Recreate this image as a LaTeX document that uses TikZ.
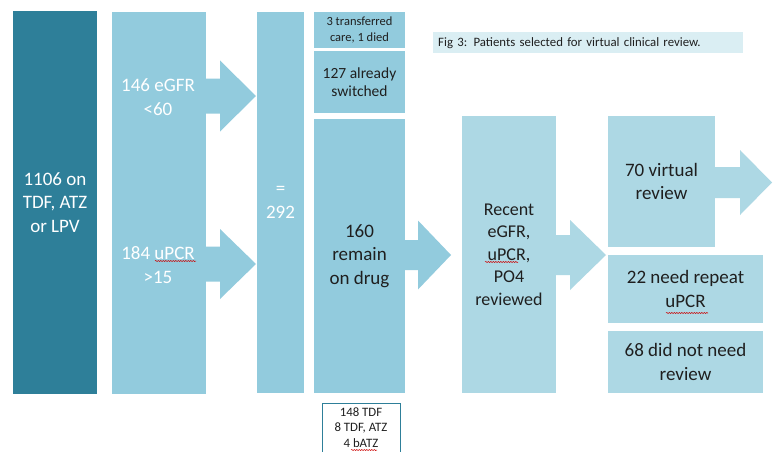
\documentclass[tikz,border=0pt]{standalone}
\usepackage{fontspec}
\setmainfont{Carlito}
\usetikzlibrary{decorations.pathmorphing}
\definecolor{dark}{HTML}{2E7F99}
\definecolor{mid}{HTML}{92CBDD}
\definecolor{pale}{HTML}{ADD8E4}
\definecolor{capfill}{HTML}{DAEEF3}
\definecolor{ink}{HTML}{1F1F1F}
\newcommand\blockarrow[7]{\fill[#1] (#2,#5-#6) -- (#3,#5-#6) -- (#3,#5-#7) -- (#4,#5) -- (#3,#5+#7) -- (#3,#5+#6) -- (#2,#5+#6) -- cycle;}
\begin{document}
\begin{tikzpicture}[x=1pt,y=-1pt,
  box/.style={anchor=north west, inner sep=0pt, outer sep=0pt, align=center},
  big/.style={font=\fontsize{19}{23.5}\selectfont},
  mtxt/.style={font=\fontsize{18}{22.5}\selectfont},
  squig/.style={draw=red!80!black, line width=0.5pt, decorate, decoration={snake, amplitude=0.6pt, segment length=2.5pt}}
]
\useasboundingbox (0,0) rectangle (776,452);
\fill[white] (0,0) rectangle (776,452);
% column 1
\node[box, big, fill=dark, text=white, minimum width=84, minimum height=383] (b1) at (13,11) {1106 on\\TDF, ATZ\\or LPV};
% column 2
\node[box, fill=mid, minimum width=94, minimum height=382] (b2) at (112,12) {};
\blockarrow{mid}{205}{220}{256}{96}{17.5}{35.5}
\blockarrow{mid}{205}{220}{256}{264}{17.5}{35}
\node[big, text=white, align=center, inner sep=0pt] (t2a) at (158,97) {146 eGFR\\<60};
\node[big, text=white, align=center, inner sep=0pt] (t2b) at (158,265) {184 uPCR\\>15};
% column 3
\node[box, big, fill=mid, text=white, minimum width=47, minimum height=381] (b3) at (257,12) {=\\292};
% column 4
\node[box, fill=mid, text=ink, minimum width=91, minimum height=36, font=\fontsize{12.5}{15.5}\selectfont] (b4a) at (314,12) {3 transferred\\care, 1 died};
\node[box, fill=mid, text=ink, minimum width=91, minimum height=62, font=\fontsize{15.5}{17.5}\selectfont] (b4b) at (314,51) {127 already\\switched};
\node[box, big, fill=mid, text=ink, minimum width=91, minimum height=274] (b4c) at (314,119) {160\\remain\\on drug};
\blockarrow{mid}{404}{418}{451}{255}{15}{34.5}
% bottom note
\node[box, draw=dark, line width=1pt, minimum width=78, minimum height=60] (note) at (322,403) {};
\node[anchor=north, inner sep=0pt, align=center, text=ink, font=\fontsize{12.8}{15.5}\selectfont] (notetxt) at (361,407.5) {148 TDF\\8 TDF, ATZ\\4 bATZ};
% column 5
\node[box, mtxt, fill=pale, text=ink, minimum width=94, minimum height=277] (b5) at (462,116) {Recent\\eGFR,\\uPCR,\\PO4\\reviewed};
\blockarrow{pale}{555}{570}{606}{255}{20}{35}
% column 6
\node[box, big, fill=pale, text=ink, minimum width=107, minimum height=131] (b6a) at (608,116) {70 virtual\\review};
\blockarrow{pale}{714}{740}{772}{182.5}{15.5}{32.5}
\node[box, big, fill=pale, text=ink, minimum width=155, minimum height=68] (b6b) at (608,255) {22 need repeat\\uPCR};
\node[box, big, fill=pale, text=ink, minimum width=155, minimum height=62] (b6c) at (608,331) {68 did not need\\review};
% caption
\node[anchor=north west, fill=capfill, text=ink, inner xsep=5pt, inner ysep=0pt, text width=300pt, minimum height=21, align=left, font=\fontsize{12.8}{14}\selectfont] (cap) at (433,32) {Fig 3: Patients selected for virtual clinical review.};
% spell-check squiggles
\draw[squig] (155,261) -- (196,261);
\draw[squig] (485,262) -- (518,262);
\draw[squig] (666,313) -- (708,313);
\draw[squig] (351,450) -- (377,450);
\end{tikzpicture}
\end{document}
